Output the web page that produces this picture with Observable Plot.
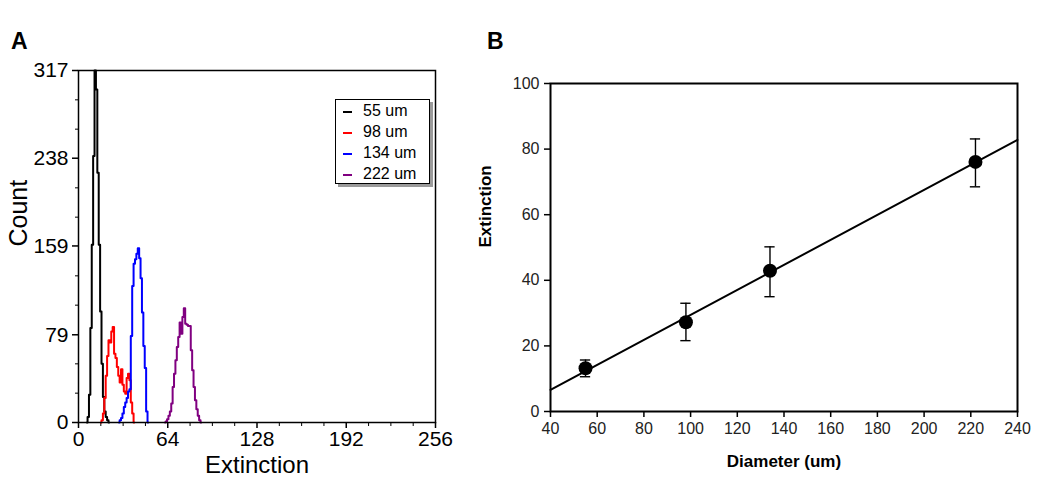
<!DOCTYPE html>
<html><head><meta charset="utf-8">
<script src="https://cdn.jsdelivr.net/npm/d3@7"></script>
<script src="https://cdn.jsdelivr.net/npm/@observablehq/plot@0.6"></script>
<style>
body{margin:0;background:#fff;font-family:Arial,"Liberation Sans",sans-serif}
#wrap{position:relative;width:1050px;height:495px;overflow:hidden;background:#fff}
.panel{position:absolute;top:0}
.lbl{position:absolute;font-weight:bold;font-size:23px;line-height:1;color:#000}
#legend{position:absolute;left:335px;top:99px;width:95px;height:85px;border:1px solid #000;background:#fff;box-shadow:3px 3px 0 #9a9a9a;box-sizing:border-box;font-size:16px}
.lrow{position:absolute;left:0;height:20px;width:100%}
.lline{position:absolute;left:7px;top:10px;width:9px;height:2px}
.ltxt{position:absolute;left:27px;top:1px;line-height:18px;color:#000}
</style></head><body><div id="wrap"></div>
<script>
// ---------- Panel A data: histograms (Extinction channel vs Count)
const seriesA = ["55 um", "98 um", "134 um", "222 um"];
const colorsA = ["#000000", "#ff0000", "#0000ff", "#800080"];
const start55 = 6;
const counts55 = [0, 5, 25, 85, 160, 240, 317, 300, 225, 160, 100, 53, 23, 10, 5, 2, 0];
const start98 = 16;
const counts98 = [0, 2, 8, 22, 42, 60, 74, 72, 82, 86, 62, 58, 50, 42, 36, 48, 34, 28, 26, 40, 44, 38, 18, 8, 0];
const start134 = 29;
const counts134 = [0, 2, 4, 8, 14, 18, 22, 28, 30, 78, 123, 143, 147, 152, 157, 148, 130, 99, 69, 49, 10, 0];
const start222 = 62;
const counts222 = [0, 1, 3, 6, 10, 17, 32, 44, 56, 68, 77, 90, 80, 95, 103, 89, 88, 87, 87, 65, 47, 32, 20, 12, 6, 2, 0];
const xTicksA = [0, 64, 128, 192, 256];
const yTicksA = [0, 79, 159, 238, 317];

// ---------- Panel B data: Extinction vs Diameter
const diameters = [55, 98, 134, 222];
const extinction = [13.2, 27.2, 42.9, 76.1];
const errLow = [10.6, 21.6, 35.0, 68.5];
const errHigh = [15.7, 33.0, 50.2, 83.1];
const xTicksB = [40, 60, 80, 100, 120, 140, 160, 180, 200, 220, 240];
const yTicksB = [0, 20, 40, 60, 80, 100];

const wrap = document.getElementById("wrap");
const font = "Arial, 'Liberation Sans', sans-serif";

// Build histogram rows
const starts = [start55, start98, start134, start222];
const countsAll = [counts55, counts98, counts134, counts222];
const histRows = [];
seriesA.forEach((s, k) => countsAll[k].forEach((c, i) => histRows.push({series: s, x: starts[k] + i, y: c})));

const minorX = d3.range(0, 257, 16).filter(v => !xTicksA.includes(v));
const minorY = d3.range(1, 12).filter(k => k % 3 !== 0).map(k => 317 * k / 12);

const plotA = Plot.plot({
  width: 470, height: 495,
  marginLeft: 78, marginRight: 35, marginTop: 70, marginBottom: 73,
  style: {fontFamily: font, background: "transparent", color: "#000", overflow: "visible"},
  x: {domain: [0, 256]},
  y: {domain: [0, 317]},
  color: {domain: seriesA, range: colorsA},
  marks: [
    Plot.axisX(xTicksA, {tickSize: 6, tickPadding: 3, fontSize: 21, label: null, strokeWidth: 1.5}),
    Plot.axisX(minorX, {tickSize: 4, tickFormat: () => "", label: null}),
    Plot.axisY(yTicksA, {tickSize: 6, tickPadding: 4, fontSize: 21, label: null, strokeWidth: 1.5}),
    Plot.axisY(minorY, {tickSize: 3, tickFormat: () => "", label: null}),
    Plot.line(histRows, {x: "x", y: "y", z: "series", stroke: "series", curve: "step", strokeWidth: 2}),
    Plot.frame({stroke: "#000", strokeWidth: 1.5}),
    Plot.text(["Extinction"], {text: d => d, frameAnchor: "bottom", dy: 50, fontSize: 24}),
    Plot.text(["Count"], {text: d => d, frameAnchor: "left", dx: -60, rotate: -90, fontSize: 25})
  ]
});
plotA.classList.add("panel");
plotA.style.left = "0px";
wrap.appendChild(plotA);

// Legend
const legend = document.createElement("div");
legend.id = "legend";
seriesA.forEach((s, i) => {
  const row = document.createElement("div");
  row.className = "lrow";
  row.style.top = (1 + i * 21) + "px";
  const ln = document.createElement("div");
  ln.className = "lline";
  ln.style.background = colorsA[i];
  const tx = document.createElement("div");
  tx.className = "ltxt";
  tx.textContent = s;
  row.appendChild(ln); row.appendChild(tx);
  legend.appendChild(row);
});
wrap.appendChild(legend);

// Panel B
const pts = diameters.map((d, i) => ({d, e: extinction[i], lo: errLow[i], hi: errHigh[i]}));
const mx = d3.mean(diameters), my = d3.mean(extinction);
const slope = d3.sum(pts, p => (p.d - mx) * (p.e - my)) / d3.sum(pts, p => (p.d - mx) ** 2);
const icpt = my - slope * mx;
const fit = [40, 240].map(x => ({x, y: icpt + slope * x}));
const capHalf = 2.2;

const plotB = Plot.plot({
  width: 580, height: 495,
  marginLeft: 80, marginRight: 33, marginTop: 83, marginBottom: 84,
  style: {fontFamily: font, background: "transparent", color: "#000", overflow: "visible"},
  x: {domain: [40, 240]},
  y: {domain: [0, 100]},
  marks: [
    Plot.axisX(xTicksB, {tickSize: 6, tickPadding: 5, fontSize: 16, label: null, strokeWidth: 1.5, fill: "#222"}),
    Plot.axisY(yTicksB, {tickSize: 6, tickPadding: 5, fontSize: 16, label: null, strokeWidth: 1.5, fill: "#222"}),
    Plot.line(fit, {x: "x", y: "y", stroke: "#000", strokeWidth: 2}),
    Plot.ruleX(pts, {x: "d", y1: "lo", y2: "hi", stroke: "#000", strokeWidth: 1.4}),
    Plot.ruleY(pts, {y: "lo", x1: p => p.d - capHalf, x2: p => p.d + capHalf, stroke: "#000", strokeWidth: 1.4}),
    Plot.ruleY(pts, {y: "hi", x1: p => p.d - capHalf, x2: p => p.d + capHalf, stroke: "#000", strokeWidth: 1.4}),
    Plot.dot(pts, {x: "d", y: "e", r: 7, fill: "#000"}),
    Plot.frame({stroke: "#000", strokeWidth: 2}),
    Plot.text(["Diameter (um)"], {text: d => d, frameAnchor: "bottom", dy: 55, fontSize: 17, fontWeight: "bold"}),
    Plot.text(["Extinction"], {text: d => d, frameAnchor: "left", dx: -65, rotate: -90, fontSize: 17, fontWeight: "bold"})
  ]
});
plotB.classList.add("panel");
plotB.style.left = "470px";
wrap.appendChild(plotB);

// Panel letters
[["A", 11, 30], ["B", 487, 30]].forEach(([t, l, tp]) => {
  const e = document.createElement("div");
  e.className = "lbl";
  e.textContent = t;
  e.style.left = l + "px";
  e.style.top = tp + "px";
  wrap.appendChild(e);
});
</script></body></html>
